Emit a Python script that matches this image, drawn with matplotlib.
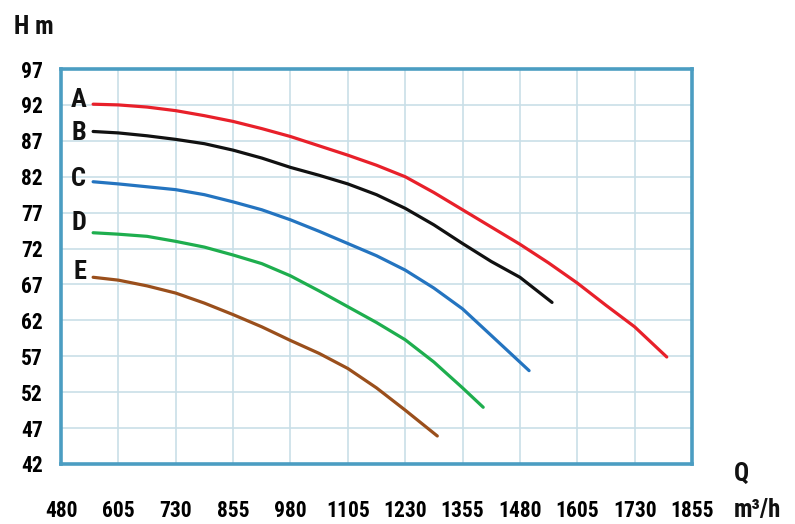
import matplotlib
matplotlib.use("Agg")
import matplotlib.pyplot as plt
from matplotlib import font_manager as fm

# ---- data ----
q_ticks = [480, 605, 730, 855, 980, 1105, 1230, 1355, 1480, 1605, 1730, 1855]
h_ticks = [42, 47, 52, 57, 62, 67, 72, 77, 82, 87, 92, 97]

names = ["A", "B", "C", "D", "E"]

q_A = [550, 605, 667.5, 730, 792.5, 855, 917.5, 980, 1042.5, 1105, 1167.5,
       1230, 1292.5, 1355, 1417.5, 1480, 1542.5, 1605, 1667.5, 1730, 1800]
h_A = [92.1, 92.0, 91.7, 91.2, 90.5, 89.7, 88.7, 87.6, 86.3, 85.0, 83.6,
       82.0, 79.8, 77.4, 75.0, 72.6, 70.0, 67.2, 64.1, 61.1, 56.9]

q_B = [550, 605, 667.5, 730, 792.5, 855, 917.5, 980, 1042.5, 1105, 1167.5,
       1230, 1292.5, 1355, 1417.5, 1480, 1550]
h_B = [88.3, 88.1, 87.7, 87.2, 86.6, 85.7, 84.6, 83.3, 82.2, 81.0, 79.5,
       77.6, 75.3, 72.7, 70.2, 68.0, 64.5]

q_C = [550, 605, 667.5, 730, 792.5, 855, 917.5, 980, 1042.5, 1105, 1167.5,
       1230, 1292.5, 1355, 1417.5, 1500]
h_C = [81.3, 81.0, 80.6, 80.2, 79.5, 78.5, 77.4, 76.0, 74.4, 72.7, 71.0,
       69.0, 66.5, 63.6, 59.9, 55.0]

q_D = [550, 605, 667.5, 730, 792.5, 855, 917.5, 980, 1042.5, 1105, 1167.5,
       1230, 1292.5, 1355, 1400]
h_D = [74.2, 74.0, 73.7, 73.0, 72.2, 71.1, 69.9, 68.2, 66.1, 63.9, 61.7,
       59.3, 56.2, 52.6, 49.9]

q_E = [550, 605, 667.5, 730, 792.5, 855, 917.5, 980, 1042.5, 1105, 1167.5,
       1230, 1300]
h_E = [68.0, 67.6, 66.8, 65.8, 64.4, 62.8, 61.1, 59.2, 57.4, 55.3, 52.6,
       49.5, 45.9]

# ---- style ----
colors = ["#e8202a", "#111111", "#2474c0", "#1eae4e", "#9a4f1c"]
label_dy = [3, -1, 2, 7, 4]  # points, vertical offset of curve letters
frame_col = "#4b9dc2"
grid_col = "#c9dfe8"

narrow = None
for cand in ["Liberation Sans Narrow", "Roboto Condensed", "Open Sans Condensed",
             "DejaVu Sans Condensed", "Noto Sans Condensed"]:
    if any(f.name == cand for f in fm.fontManager.ttflist):
        narrow = cand
        break
if narrow is None:
    narrow = "DejaVu Sans"
font = [narrow, "DejaVu Sans"]
tstyle = dict(fontfamily=font, fontweight="bold", fontstretch="condensed")

fig = plt.figure(figsize=(7.95, 5.24), dpi=100)
ax = fig.add_axes([61 / 795, 1 - 464 / 524, 631 / 795, 395 / 524])

ax.set_xlim(q_ticks[0], q_ticks[-1])
ax.set_ylim(h_ticks[0], h_ticks[-1])
ax.set_xticks(q_ticks)
ax.set_yticks(h_ticks)
ax.set_xticklabels([str(v) for v in q_ticks], fontsize=15.5, **tstyle)
ax.set_yticklabels([str(v) for v in h_ticks], fontsize=15.5, **tstyle)
ax.tick_params(axis="x", length=0, pad=26)
ax.tick_params(axis="y", length=0, pad=13)
ax.grid(True, color=grid_col, linewidth=1.2)
ax.set_axisbelow(True)
for s in ax.spines.values():
    s.set_color(frame_col)
    s.set_linewidth(2.6)

series = [(q_A, h_A), (q_B, h_B), (q_C, h_C), (q_D, h_D), (q_E, h_E)]
for (qs, hs), c, n, dy in zip(series, colors, names, label_dy):
    ax.plot(qs, hs, color=c, linewidth=2.3, solid_capstyle="round",
            solid_joinstyle="round", zorder=3)
    ax.annotate(n, xy=(qs[0], hs[0]), xytext=(-5, dy),
                textcoords="offset points", ha="right", va="center",
                fontsize=19, color="#111111", **tstyle)

fig.text(34 / 795, 1 - 27 / 524, "H m", ha="center", va="center",
         fontsize=18, color="#111111", **tstyle)
fig.text(741 / 795, 1 - 474 / 524, "Q", ha="center", va="center",
         fontsize=18, color="#111111", **tstyle)
fig.text(757 / 795, 1 - 510 / 524, "m³/h", ha="center", va="center",
         fontsize=18, color="#111111", **tstyle)

fig.savefig("out.png", dpi=100)
